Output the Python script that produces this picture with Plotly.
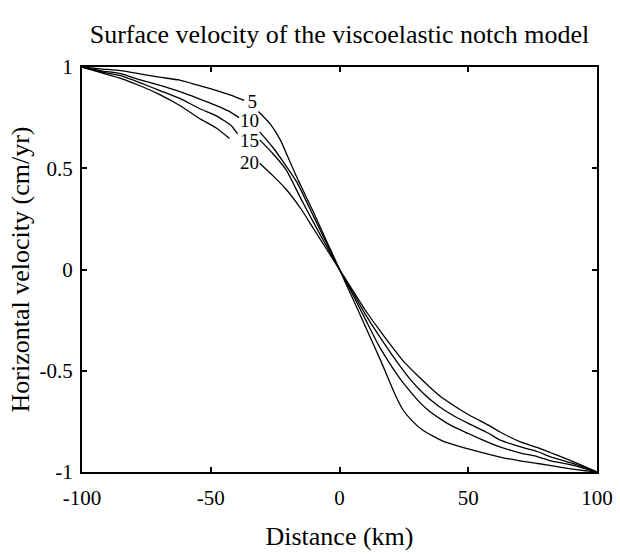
import plotly.graph_objects as go

# ---- data ----
time_labels = ["5", "10", "15", "20"]

x_t5 = [-100, -92, -85, -77, -70, -62, -55, -48, -42, -37, -35, -31.5, -27, -23, -19.5, -16, -10, -5, 0,
        5, 10, 16, 21.5, 24.5, 28, 32.5, 40, 50, 62, 70, 77, 85, 92, 100]
v_t5 = [1.0, 0.99, 0.982, 0.965, 0.95, 0.935, 0.91, 0.885, 0.86, 0.835, None, 0.78, 0.72, 0.64, 0.54, 0.44, 0.28, 0.14, 0.0,
        -0.14, -0.28, -0.45, -0.615, -0.69, -0.745, -0.795, -0.846, -0.886, -0.925, -0.945, -0.958, -0.975, -0.988, -1.0]

x_t10 = [-100, -92, -85, -77, -70, -62, -55, -48, -42, -39, -35, -31, -26, -20.5, -16.5, -10, -5, 0,
         5, 10, 15, 18.8, 23, 26, 30, 34, 40, 44, 50, 58, 62, 70, 77, 82, 90, 100]
v_t10 = [1.0, 0.98, 0.967, 0.935, 0.91, 0.878, 0.845, 0.81, 0.775, 0.75, None, 0.68, 0.605, 0.507, 0.43, 0.26, 0.13, 0.0,
         -0.12, -0.245, -0.37, -0.45, -0.53, -0.58, -0.64, -0.69, -0.745, -0.775, -0.81, -0.855, -0.875, -0.905, -0.925, -0.945, -0.965, -1.0]

x_t15 = [-100, -92, -85, -77, -70, -62, -54.4, -48, -42, -39.6, -35, -31, -26, -20.6, -15, -10, -5, 0,
         5, 10, 15, 22, 27, 32.4, 38, 44, 50, 58, 62, 70, 77, 82, 90, 100]
v_t15 = [1.0, 0.975, 0.957, 0.92, 0.885, 0.845, 0.795, 0.76, 0.71, 0.67, None, 0.64, 0.574, 0.49, 0.35, 0.23, 0.115, 0.0,
         -0.11, -0.22, -0.32, -0.45, -0.535, -0.61, -0.67, -0.72, -0.76, -0.81, -0.84, -0.875, -0.90, -0.925, -0.955, -1.0]

x_t20 = [-100, -92, -85, -77, -70, -62, -54.4, -48, -42.7, -35, -31, -26, -21, -15, -10, -5, 0,
         5, 10, 15, 20, 24.6, 30, 35, 40, 46.6, 50.5, 58, 62, 70, 77, 82, 90, 100]
v_t20 = [1.0, 0.97, 0.944, 0.905, 0.865, 0.81, 0.746, 0.70, 0.647, None, 0.525, 0.465, 0.40, 0.30, 0.20, 0.10, 0.0,
         -0.10, -0.20, -0.29, -0.375, -0.45, -0.52, -0.58, -0.635, -0.69, -0.72, -0.77, -0.80, -0.85, -0.88, -0.905, -0.945, -1.0]

label_x = [-33.9, -35, -35, -35]
label_y = [0.82, 0.725, 0.63, 0.52]

x_tickvals = [-100, -50, 0, 50, 100]
x_ticktext = ["-100", "-50", "0", "50", "100"]
y_tickvals = [-1, -0.5, 0, 0.5, 1]
y_ticktext = ["-1", "-0.5", "0", "0.5", "1"]

FONT = "Liberation Serif"

fig = go.Figure()
for xs, vs in [(x_t5, v_t5), (x_t10, v_t10), (x_t15, v_t15), (x_t20, v_t20)]:
    fig.add_trace(go.Scatter(x=xs, y=vs, mode="lines",
                             line=dict(color="black", width=1.3, shape="spline", smoothing=0.5),
                             connectgaps=False, showlegend=False, hoverinfo="skip"))

fig.add_trace(go.Scatter(x=label_x, y=label_y, mode="text", text=time_labels,
                         textfont=dict(family=FONT, size=19, color="black"),
                         textposition="middle center", showlegend=False, hoverinfo="skip"))

axis_common = dict(showline=True, linecolor="black", linewidth=2, mirror="ticks",
                   ticks="inside", ticklen=5, tickwidth=2, tickcolor="black",
                   showgrid=False, zeroline=False, automargin=False,
                   tickfont=dict(family=FONT, size=21, color="black"))

fig.update_layout(
    width=620, height=554,
    margin=dict(l=82, r=23, t=67, b=82),
    paper_bgcolor="white", plot_bgcolor="white",
    title=dict(text="Surface velocity of the viscoelastic notch model",
               font=dict(family=FONT, size=26, color="black"),
               x=0.5, xref="paper", xanchor="center", y=1 - 34 / 554, yanchor="middle"),
    xaxis=dict(range=[-100, 100], tickvals=x_tickvals, ticktext=x_ticktext, ticklabelstandoff=6,
               title=dict(text="Distance (km)", font=dict(family=FONT, size=26, color="black"), standoff=18),
               **axis_common),
    yaxis=dict(range=[-1, 1], tickvals=y_tickvals, ticktext=y_ticktext, ticklabelstandoff=3,
               title=dict(text="Horizontal velocity (cm/yr)", font=dict(family=FONT, size=26, color="black"), standoff=2),
               **axis_common),
)

fig.write_html("out.html", config={"displayModeBar": False},
               post_script="document.body.style.margin='0px';")
